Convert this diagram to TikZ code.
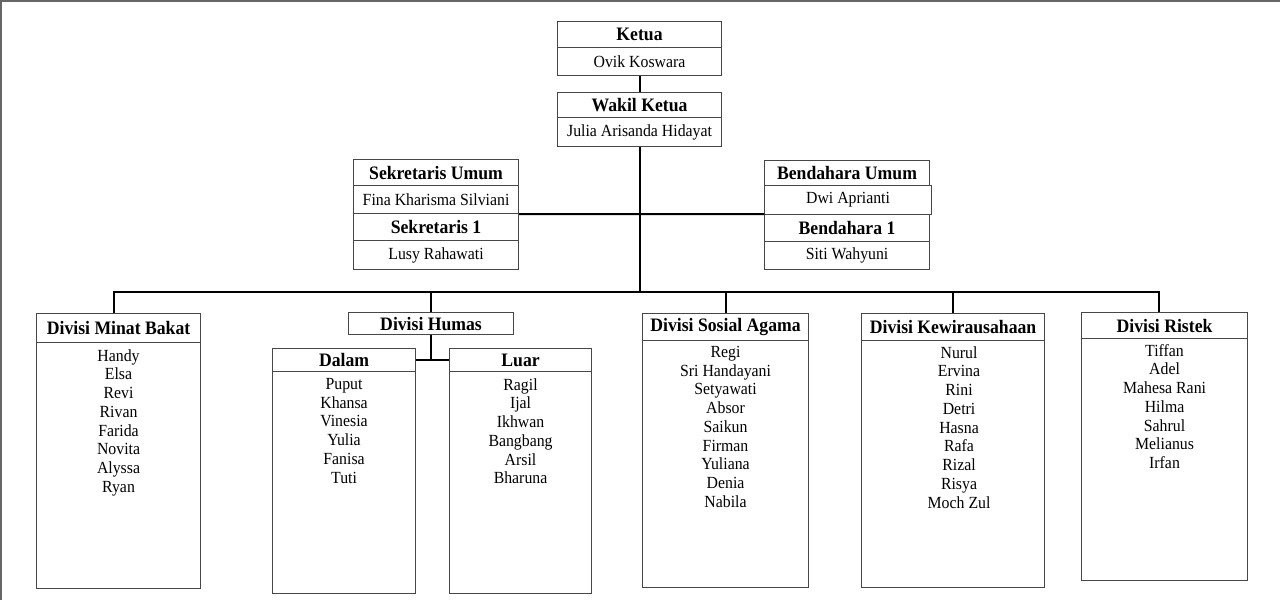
\documentclass[tikz,border=0pt]{standalone}
\usepackage{fontspec}
\setmainfont{Liberation Serif}[FakeStretch=0.93]
\begin{document}
\begin{tikzpicture}[x=1pt,y=-1pt,
 box/.style={draw=black!72, line width=1.1pt, inner sep=0pt, anchor=north west},
 hdr/.style={box, font=\fontsize{19}{21}\selectfont\bfseries},
 bod/.style={box, font=\fontsize{17}{18.5}\selectfont},
 names/.style={anchor=north, inner sep=0pt, align=center, font=\fontsize{17}{18.75}\selectfont},
 conn/.style={line width=2pt, black},
 frame/.style={line width=2pt, black!60}]
\useasboundingbox (0,0) rectangle (1280,600);
\draw[frame] (1,600) -- (1,1) -- (1280,1);

% top
\node[hdr, minimum width=164pt, minimum height=26pt] (keth) at (557,21) {Ketua};
\node[bod, minimum width=164pt, minimum height=28pt] (ketb) at (557,47) {Ovik Koswara};
\node[hdr, minimum width=164pt, minimum height=25pt] (wakh) at (557,92) {Wakil Ketua};
\node[bod, minimum width=164pt, minimum height=29pt] (wakb) at (557,117) {Julia Arisanda Hidayat};

\node[hdr, minimum width=165pt, minimum height=26pt] (sekuh) at (353,159) {Sekretaris Umum};
\node[bod, minimum width=165pt, minimum height=28pt] (sekub) at (353,185) {Fina Kharisma Silviani};
\node[hdr, minimum width=165pt, minimum height=27pt] (sek1h) at (353,213) {Sekretaris 1};
\node[bod, minimum width=165pt, minimum height=29pt] (sek1b) at (353,240) {Lusy Rahawati};

\node[hdr, minimum width=165pt, minimum height=25pt] (benuh) at (764,160) {Bendahara Umum};
\node[bod, minimum width=167pt, minimum height=29pt] (benub) at (764,185) {Dwi Aprianti};
\node[hdr, minimum width=165pt, minimum height=27pt] (ben1h) at (764,214) {Bendahara 1};
\node[bod, minimum width=165pt, minimum height=28pt] (ben1b) at (764,241) {Siti Wahyuni};

% divisions
\node[hdr, minimum width=164pt, minimum height=29pt] (mbh) at (36,313) {Divisi Minat Bakat};
\node[box, minimum width=164pt, minimum height=246pt] (mbb) at (36,342) {};
\node[names] (mbn) at ([yshift=-7pt]mbb.north) {Handy\\Elsa\\Revi\\Rivan\\Farida\\Novita\\Alyssa\\Ryan};

\node[hdr, minimum width=165pt, minimum height=22pt] (humh) at (348,312) {Divisi Humas};
\node[hdr, minimum width=143pt, minimum height=23pt] (dalh) at (272,348) {Dalam};
\node[box, minimum width=143pt, minimum height=222pt] (dalb) at (272,371) {};
\node[names] (daln) at ([yshift=-7pt]dalb.north) {Puput\\Khansa\\Vinesia\\Yulia\\Fanisa\\Tuti};
\node[hdr, minimum width=142pt, minimum height=23pt] (luarh) at (449,348) {Luar};
\node[box, minimum width=142pt, minimum height=222pt] (luarb) at (449,371) {};
\node[names] (luarn) at ([yshift=-7pt]luarb.north) {Ragil\\Ijal\\Ikhwan\\Bangbang\\Arsil\\Bharuna};

\node[hdr, minimum width=166pt, minimum height=27pt] (sosh) at (642,313) {Divisi Sosial Agama};
\node[box, minimum width=166pt, minimum height=247pt] (sosb) at (642,340) {};
\node[names] (sosn) at ([yshift=-6pt]sosb.north) {Regi\\Sri Handayani\\Setyawati\\Absor\\Saikun\\Firman\\Yuliana\\Denia\\Nabila};

\node[hdr, minimum width=183pt, minimum height=27pt] (kewh) at (861,313) {Divisi Kewirausahaan};
\node[box, minimum width=183pt, minimum height=247pt] (kewb) at (861,340) {};
\node[names] (kewn) at ([yshift=-6pt,xshift=6pt]kewb.north) {Nurul\\Ervina\\Rini\\Detri\\Hasna\\Rafa\\Rizal\\Risya\\Moch Zul};

\node[hdr, minimum width=166pt, minimum height=26pt] (rish) at (1081,312) {Divisi Ristek};
\node[box, minimum width=166pt, minimum height=242pt] (risb) at (1081,338) {};
\node[names] (risn) at ([yshift=-6pt]risb.north) {Tiffan\\Adel\\Mahesa Rani\\Hilma\\Sahrul\\Melianus\\Irfan};

% connectors
\coordinate (busy) at (0,292);
\coordinate (bus) at (wakb.south |- busy);
\draw[conn] (ketb.south) -- (wakh.north);
\draw[conn] (wakb.south) -- (bus);
\draw[conn] (sekub.south east) -- (ben1h.north west);
\draw[conn] ([xshift=-5pt]mbh.north) |- (bus) -| ([xshift=-6pt]rish.north);
\draw[conn] (humh.north) -- (humh.north |- bus);
\draw[conn] (sosh.north) -- (sosh.north |- bus);
\draw[conn] (kewh.north) -- (kewh.north |- bus);
\draw[conn] (humh.south) -- (humh.south |- dalh.east);
\draw[conn] (dalh.east) -- (luarh.west);
\end{tikzpicture}
\end{document}
